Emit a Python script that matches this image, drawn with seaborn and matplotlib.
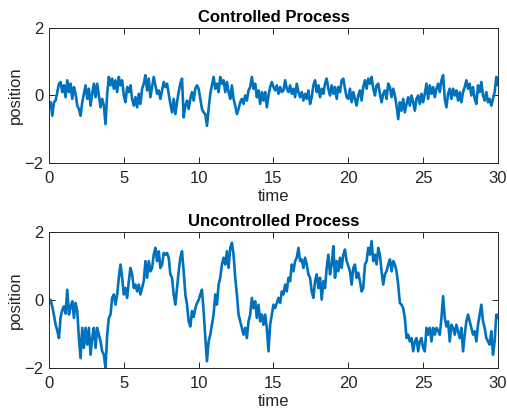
import numpy as np
import pandas as pd
import matplotlib
matplotlib.use("Agg")
import matplotlib.pyplot as plt
import seaborn as sns

controlled_a = [-0.2, -0.2, -0.6, -0.2, -0.15, 0.1, 0.35, 0.4, 0.1, 0.3,
                -0.05, 0.45, 0.1, 0.35, -0.1, 0.25, 0.05, -0.3, -0.4, -0.6,
                -0.2, 0.05, 0.3, -0.1, 0.2, -0.3, 0.05, 0.35, -0.05, 0.35,
                0.0, -0.35, -0.1, -0.3, -0.85, 0.05, 0.55, 0.3, 0.5, 0.2,
                0.45, 0.1, 0.55, 0.3, 0.45, 0.0, -0.2, 0.25, 0.1, 0.3,
                -0.1, -0.3, -0.05, -0.35, 0.05, -0.25, 0.2, 0.35, 0.6, 0.15,
                0.5, -0.05, 0.25, 0.55, 0.3, 0.05, 0.15, -0.1, 0.15, 0.4,
                0.25, 0.35, 0.05, -0.25, -0.5, -0.1, -0.55, -0.2, 0.1, 0.35,
                0.5, -0.65, -0.3, -0.15, -0.4, -0.1, 0.1, -0.15, 0.2, 0.3,
                0.2]
controlled_b = [-0.1, -0.4, -0.5, -0.55, -0.9, -0.4, 0.05, 0.3, 0.55, 0.2,
                0.35, 0.1, 0.55, 0.35, 0.45, 0.1, 0.4, 0.1, -0.1, 0.3,
                -0.1, -0.3, -0.55, -0.4, -0.2, -0.1, -0.25, 0.0, -0.15, 0.15,
                0.25, 0.55, 0.2, 0.35, -0.05, 0.15, -0.25, 0.1, -0.15, 0.1,
                -0.35, 0.0, 0.25, 0.4, 0.25, 0.15, 0.3, 0.05, 0.25, 0.1,
                0.15, 0.45, 0.2, 0.1, 0.3, 0.05, 0.2, -0.05, 0.35, 0.1,
                -0.05, 0.1, -0.15, 0.05, -0.1, 0.15, -0.25, -0.05, 0.3, 0.45,
                0.1, 0.3, -0.05, 0.2, 0.05, 0.35, 0.5, 0.2, 0.0, 0.3,
                0.05, 0.25, -0.1, 0.25, 0.1, 0.45, 0.5, 0.2, -0.05, -0.1]
controlled_c = [0.2, -0.2, 0.1, -0.1, -0.3, 0.0, 0.15, -0.15, 0.25, 0.45,
                0.2, 0.5, 0.35, 0.55, 0.2, 0.0, 0.3, 0.35, 0.05, -0.2,
                0.05, 0.15, -0.1, 0.35, 0.25, -0.05, 0.2, 0.0, -0.3, -0.7,
                -0.2, -0.45, -0.1, -0.5, -0.25, -0.05, -0.3, 0.0, -0.2, -0.45,
                -0.1, 0.0, -0.25, 0.05, -0.2, 0.05, 0.35, -0.1, 0.3, 0.05,
                0.25, -0.05, 0.2, 0.35, 0.1, 0.45, 0.6, -0.1, -0.35, 0.05,
                0.2, -0.1, 0.2, 0.0, 0.15, -0.15, 0.1, -0.2, 0.1, 0.25,
                0.45, 0.2, 0.35, 0.0, 0.25, -0.1, -0.25, 0.3, 0.1, 0.4,
                0.0, -0.15, 0.1, -0.2, -0.1, -0.3, -0.1, 0.1, 0.55, 0.3]

uncontrolled_a = [0.0, 0.0, -0.2, -0.45, -0.73, -0.9, -1.12, -0.5, -0.3, -0.19,
                  -0.4, 0.3, -0.43, -0.2, -0.04, -0.53, -0.09, -0.33, -1.12, -1.71,
                  -0.82, -1.41, -0.82, -1.31, -0.82, -1.61, -1.12, -0.82, -1.41, -0.82,
                  -1.02, -1.22, -1.51, -1.61, -2.0, -1.02, -0.53, -0.43, 0.06, 0.16,
                  -0.14, 0.16, 0.65, 1.04, 0.65, 0.16, 0.35, 0.06, 0.55, 0.94,
                  0.75, 0.35, 0.45, 0.25, 0.45, 0.16, 0.35, 0.55, 1.14, 0.65,
                  1.14, 0.84, 0.94, 1.33, 1.53, 1.14, 1.43, 0.94, 1.04, 1.38,
                  1.33, 1.38, 1.24, 0.75, 0.65, 0.16, -0.14, 0.35, 0.84, 1.24,
                  1.43, 0.84, 0.16, -0.14, -0.63, -0.78, -0.33, -0.5, -0.24, -0.1,
                  0.0]
uncontrolled_b = [0.16, 0.3, -0.33, -1.1, -1.8, -1.22, -1.02, -0.73, -0.43, 0.16,
                  -0.14, 0.45, 0.65, 1.04, 1.24, 1.04, 1.43, 0.94, 1.53, 1.68,
                  1.33, 0.65, 0.16, -0.43, -0.63, -0.82, -1.02, -0.82, -1.12, -0.63,
                  -0.43, 0.06, -0.24, -0.04, -0.53, -0.14, -0.63, -0.43, -0.73, -0.43,
                  -0.82, -1.51, -0.73, -0.43, -0.14, -0.24, -0.09, 0.06, -0.09, 0.25,
                  0.16, 0.45, 0.25, 0.65, 0.55, 1.04, 0.84, 1.14, 1.24, 1.53,
                  1.14, 1.19, 0.94, 1.24, 1.04, 0.75, 0.65, 0.25, 0.06, 0.55,
                  0.75, 0.35, 0.65, 0.01, 0.55, 0.35, 0.94, 1.33, 0.75, 1.04,
                  1.58, 0.65, 1.14, 0.84, 1.24, 0.94, 1.33, 1.48, 1.14, 1.0]
uncontrolled_c = [0.84, 0.45, 0.94, 1.04, 0.65, 0.8, 0.55, 0.25, 0.35, 1.04,
                  1.14, 1.53, 1.33, 1.73, 1.14, 1.33, 1.04, 1.53, 1.33, 0.84,
                  0.45, 0.75, 0.84, 1.04, 1.19, 0.84, 1.14, 1.04, 0.84, 0.45,
                  -0.09, -0.14, -0.24, -0.53, -1.12, -1.02, -1.22, -1.12, -1.51, -1.22,
                  -1.12, -1.51, -1.22, -1.12, -1.41, -1.51, -0.82, -1.02, -0.82, -1.22,
                  -0.82, -1.02, -0.82, -0.9, -1.02, -0.53, 0.11, -0.53, -0.78, -0.63,
                  -1.22, -0.73, -0.82, -1.02, -0.73, -0.92, -1.12, -0.82, -1.51, -1.02,
                  -0.63, -0.43, -0.63, -0.82, -1.02, -0.92, -1.22, -0.73, -0.43, -0.14,
                  -0.63, -0.82, -1.12, -1.22, -1.31, -0.92, -1.61, -1.22, -0.43, -0.53]

controlled = controlled_a + controlled_b + controlled_c
uncontrolled = uncontrolled_a + uncontrolled_b + uncontrolled_c

df_c = pd.DataFrame({'time': np.linspace(0, 30, len(controlled)), 'position': controlled})
df_u = pd.DataFrame({'time': np.linspace(0, 30, len(uncontrolled)), 'position': uncontrolled})

# --- style ---
sns.set_style("ticks")
plt.rcParams['font.family'] = ['Liberation Sans', 'DejaVu Sans']
plt.rcParams['axes.edgecolor'] = '#262626'
plt.rcParams['xtick.color'] = '#262626'
plt.rcParams['ytick.color'] = '#262626'
plt.rcParams['text.color'] = '#262626'
plt.rcParams['axes.labelcolor'] = '#262626'

line_color = '#0072BD'

fig = plt.figure(figsize=(5.07, 4.17), dpi=100)
ax1 = fig.add_axes([0.0966, 0.609, 0.8856, 0.324])
ax2 = fig.add_axes([0.0966, 0.1175, 0.8856, 0.3265])

panels = [(ax1, df_c, 'Controlled Process'), (ax2, df_u, 'Uncontrolled Process')]
for ax, d, title in panels:
    sns.lineplot(data=d, x='time', y='position', ax=ax, color=line_color, linewidth=1.9)
    ax.set_xlim(0, 30)
    ax.set_ylim(-2, 2)
    ax.set_xticks([0, 5, 10, 15, 20, 25, 30])
    ax.set_yticks([-2, 0, 2])
    ax.tick_params(direction='in', top=True, right=True, length=4, width=0.7, labelsize=12)
    ax.tick_params(axis='x', pad=6)
    ax.tick_params(axis='y', pad=4)
    for s in ax.spines.values():
        s.set_visible(True)
        s.set_linewidth(0.7)
    ax.set_title(title, fontsize=12, fontweight='bold', pad=4, color='black')
    ax.set_xlabel('time', fontsize=12, labelpad=2)
    ax.set_ylabel('position', fontsize=12, labelpad=1)

fig.savefig("out.png", dpi=100)
